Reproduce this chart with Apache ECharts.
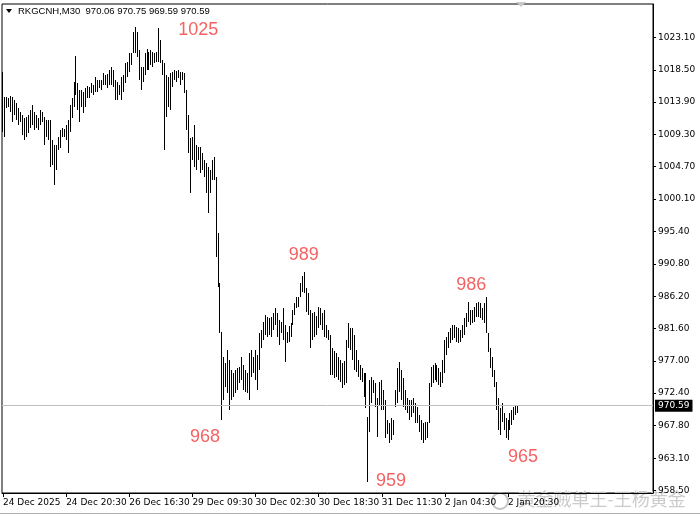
<!DOCTYPE html>
<html><head><meta charset="utf-8">
<script src="https://cdn.jsdelivr.net/npm/echarts@6/dist/echarts.min.js"></script>
<style>html,body{margin:0;padding:0;background:#fff}#c{width:700px;height:520px}</style>
</head><body><div id="c"></div>
<script>
const symbolName = 'RKGCNH,M30';
const lastOHLC = [970.06, 970.75, 969.59, 970.59];
const xLabels = ['24 Dec 2025','24 Dec 20:30','26 Dec 16:30','29 Dec 09:30','30 Dec 02:30','30 Dec 18:30','31 Dec 11:30','2 Jan 04:30','2 Jan 20:30'];
const labelStep = 32;
const slotCount = 330;
const yTicks = [1023.10,1018.50,1013.90,1009.30,1004.70,1000.10,995.40,990.80,986.20,981.60,977.00,972.40,967.80,963.10,958.50];

const highs = [1018.2,1014.6,1014.6,1014.5,1014.8,1014.6,1014.2,1013.8,1013.0,1012.5,
1012.1,1011.6,1011.8,1012.1,1012.8,1013.5,1012.5,1012.1,1011.6,1012.8,
1012.5,1011.8,1011.3,1011.3,1011.3,1008.5,1007.8,1007.8,1008.9,1009.9,
1010.2,1010.1,1010.6,1011.3,1013.5,1014.5,1016.8,1020.5,1016.6,1015.6,
1015.6,1015.3,1015.9,1016.2,1016.0,1016.6,1016.3,1017.5,1017.0,1017.0,
1017.0,1018.0,1017.8,1017.9,1018.5,1018.9,1018.5,1017.0,1016.8,1016.3,
1017.5,1017.8,1019.5,1019.6,1020.9,1020.9,1023.9,1024.6,1023.9,1021.3,
1018.9,1018.9,1020.9,1021.5,1021.0,1021.3,1021.0,1020.9,1021.0,1024.5,
1022.8,1019.9,1019.5,1017.8,1017.5,1018.0,1018.2,1018.5,1018.3,1018.5,
1018.2,1018.2,1018.0,1015.6,1012.1,1008.8,1008.9,1010.6,1007.8,1007.5,
1007.5,1006.6,1005.6,1005.2,1004.6,1004.2,1005.6,1006.1,1003.2,995.2,
988.1,981.1,977.5,976.7,978.5,977.1,975.7,975.3,975.7,976.0,
976.1,977.5,976.4,975.7,975.3,978.1,978.5,977.5,978.5,977.8,
981.0,981.4,982.5,983.5,983.2,983.1,983.2,983.8,984.5,983.8,
982.8,982.5,984.5,982.1,981.1,982.0,982.4,984.2,985.2,986.1,
986.1,988.1,989.1,989.7,987.4,986.7,984.2,983.8,984.0,983.4,
984.7,984.5,983.8,984.2,982.1,981.4,980.7,978.8,978.4,978.1,
977.5,977.1,976.7,977.0,980.0,982.4,981.7,981.7,980.7,978.5,
977.1,976.4,976.0,975.3,975.3,969.0,974.3,974.7,974.3,973.8,
971.7,974.0,974.3,972.8,971.4,968.6,968.1,968.8,968.6,972.8,
976.0,976.8,975.7,974.5,972.8,971.7,971.4,971.4,971.7,971.0,
970.4,969.3,968.6,968.1,968.3,968.3,973.8,976.1,976.4,976.7,
976.4,976.0,975.4,977.1,980.0,980.4,981.1,981.7,982.1,982.1,
981.8,981.7,981.4,982.1,983.1,983.8,985.4,984.2,984.2,984.7,
985.2,985.4,985.2,984.5,985.2,986.1,981.0,978.8,977.5,975.7,
974.0,971.7,970.3,971.0,969.6,968.8,968.6,969.6,970.0,970.4,
970.7,970.75];

const lows = [1009.6,1008.9,1013.0,1013.2,1012.5,1011.1,1012.1,1011.3,1010.6,1011.1,
1009.2,1008.5,1008.9,1009.5,1010.2,1010.6,1009.9,1010.2,1009.9,1010.6,
1011.1,1007.8,1008.9,1008.5,1004.6,1004.9,1002.1,1004.2,1007.1,1007.3,
1008.9,1008.9,1008.5,1006.6,1009.6,1011.6,1013.2,1014.9,1012.8,1011.1,
1013.2,1012.3,1013.2,1014.5,1014.5,1015.2,1014.9,1015.3,1015.3,1015.9,
1015.6,1016.3,1016.3,1015.9,1016.3,1016.3,1016.0,1014.2,1014.2,1014.9,
1014.2,1015.3,1016.6,1017.5,1018.2,1019.2,1020.9,1020.9,1020.3,1017.0,
1015.6,1016.8,1017.8,1018.5,1018.5,1019.2,1018.9,1019.5,1019.6,1019.6,
1019.5,1017.8,1007.1,1011.8,1013.2,1012.8,1016.0,1017.0,1016.8,1017.3,
1016.3,1017.0,1015.2,1009.9,1006.6,1000.9,1005.6,1004.6,1004.2,1005.6,
1003.8,1004.2,1003.2,1000.9,998.1,1000.9,1002.8,1002.8,991.8,987.5,
981.0,968.5,971.4,973.3,972.4,970.0,971.4,971.8,972.4,972.8,
973.8,974.3,972.8,972.5,972.4,971.4,974.7,975.3,974.3,972.8,
975.7,978.8,980.0,980.7,980.4,980.7,980.4,981.4,982.1,980.4,
979.3,981.0,980.0,976.8,979.5,979.7,980.4,982.1,983.5,984.5,
984.7,986.1,986.8,986.7,984.0,983.5,978.8,980.0,980.4,980.7,
981.7,982.1,981.4,980.4,980.3,980.0,975.0,975.0,974.5,974.7,
974.3,974.0,973.1,973.6,973.8,978.8,978.5,977.1,975.7,975.4,
974.7,974.3,974.0,971.8,970.3,959.7,966.8,971.0,972.4,970.4,
966.1,970.7,970.0,970.0,966.0,966.6,965.3,965.7,966.4,970.4,
971.0,972.5,971.4,970.4,970.0,969.6,968.6,969.0,969.6,968.1,
968.1,966.8,965.7,965.3,965.7,966.0,968.1,973.3,973.8,974.3,
974.0,973.6,973.3,973.8,975.3,977.8,978.8,979.5,980.0,980.3,
979.7,979.5,979.7,980.3,980.7,981.8,982.5,982.1,982.4,982.5,
983.2,983.2,983.1,982.8,982.4,981.0,978.3,976.0,974.7,973.3,
970.0,967.1,966.4,968.3,967.1,966.0,965.7,967.1,967.8,968.6,
969.3,969.59];

const annIdx = [67,153,111,185,245,256];
const annSide = ['high','high','low','low','high','low'];
const annText = ['1025','989','968','959','986','965'];

const annOffset = [[63,3],[-1,-17],[-17,17],[23,-1],[-15,-12],[15,17]];
const FONT = 'DejaVu Sans';

const slots = Array.from({length: slotCount}, (_, i) => String(i));
const isLabelSlot = (i) => i % labelStep === 0 && i / labelStep < xLabels.length;

const chart = echarts.init(document.getElementById('c'), null, {renderer: 'canvas'});
chart.setOption({
  animation: false,
  backgroundColor: '#fff',
  grid: {left: 2, right: 47, top: 4, bottom: 27, show: true, borderColor: '#000', borderWidth: 1, backgroundColor: '#fff'},
  xAxis: {
    type: 'category', data: slots, boundaryGap: true,
    axisLine: {show: true, lineStyle: {color: '#000'}},
    axisTick: {show: true, alignWithLabel: true, interval: (i) => isLabelSlot(i), length: 4, lineStyle: {color: '#000'}},
    axisLabel: {interval: (i) => isLabelSlot(i), formatter: (v) => xLabels[Number(v) / labelStep] || '',
      align: 'left', color: '#000', fontSize: 9, fontFamily: FONT, margin: 5},
    splitLine: {show: false}
  },
  yAxis: {
    type: 'value', position: 'right', min: 958.144, max: 1027.877,
    axisLine: {show: true, lineStyle: {color: '#000'}},
    axisTick: {show: true, length: 3, customValues: yTicks, lineStyle: {color: '#000'}},
    axisLabel: {customValues: yTicks, formatter: (v) => Number(v).toFixed(2), color: '#000', fontSize: 9, fontFamily: FONT, margin: 5},
    splitLine: {show: false}
  },
  series: [{
    type: 'custom',
    clip: true,
    data: highs.map((h, i) => [i, h, lows[i]]),
    encode: {x: 0, y: [1, 2]},
    renderItem: (params, api) => {
      const i = api.value(0);
      const hi = api.coord([i, api.value(1)]);
      const lo = api.coord([i, api.value(2)]);
      const x = Math.floor(hi[0]) + 0.5;
      return {type: 'line', shape: {x1: x, y1: Math.round(hi[1]), x2: x, y2: Math.max(Math.round(lo[1]), Math.round(hi[1]) + 1)},
        style: {stroke: '#000', lineWidth: 1}};
    },
    markLine: {
      silent: true, symbol: 'none', animation: false,
      data: [{yAxis: lastOHLC[3]}],
      lineStyle: {color: '#c0c0c0', type: 'solid', width: 1},
      label: {show: true, position: 'end', formatter: lastOHLC[3].toFixed(2), backgroundColor: '#000', color: '#fff',
        padding: [2, 3, 1, 3], fontSize: 9, fontFamily: FONT, distance: 2}
    }
  }, {
    type: 'scatter',
    symbolSize: 1,
    itemStyle: {color: 'rgba(0,0,0,0)'},
    silent: true,
    data: annIdx.map((idx, k) => ({
      value: [idx, annSide[k] === 'high' ? highs[idx] : lows[idx]],
      label: {offset: annOffset[k], formatter: annText[k]}
    })),
    label: {show: true, position: 'inside', color: '#f23a3a', fontSize: 18, fontFamily: 'Liberation Sans'}
  }],
  graphic: [
    {type: 'polygon', shape: {points: [[6, 9], [12, 9], [9, 13]]}, style: {fill: '#000'}},
    {type: 'text', left: 18, top: 6, style: {text: symbolName + '  ' + lastOHLC.map(v => v.toFixed(2)).join(' '), fill: '#000', font: '9.5px "Liberation Sans"'}},
    {type: 'polygon', shape: {points: [[516, 2], [526, 2], [521, 7]]}, style: {fill: '#c8c8c8'}},
    {type: 'line', shape: {x1: 0, y1: 513.5, x2: 700, y2: 513.5}, style: {stroke: '#b0b0b0', lineWidth: 1}},
    {type: 'circle', shape: {cx: 500, cy: 501, r: 8}, style: {fill: 'none', stroke: 'rgba(170,170,170,0.7)', lineWidth: 2}},
    {type: 'text', left: 517, top: 490, style: {text: '黄金贼单王-王杨黄金', fill: 'rgba(185,185,185,0.75)', font: '18px "Noto Sans CJK SC"', stroke: 'rgba(255,255,255,0.8)', lineWidth: 1}}
  ]
});
</script>
</body></html>
